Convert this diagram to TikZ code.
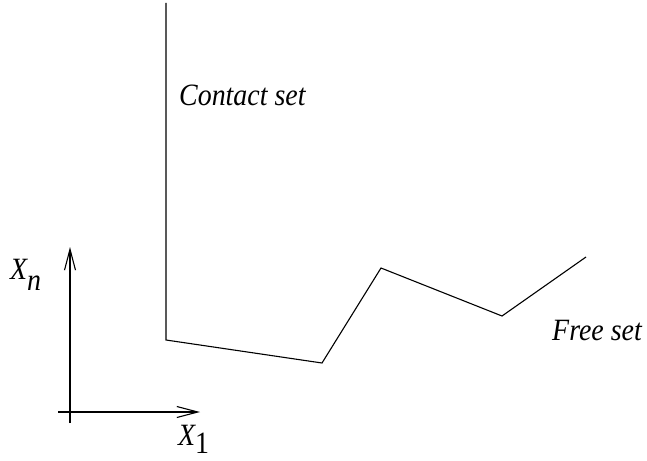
\documentclass[tikz,border=0pt]{standalone}
\usepackage{fontspec}
\setmainfont{Liberation Serif}
\usetikzlibrary{arrows.meta}

\begin{document}
\begin{tikzpicture}[
    x=1pt, y=-1pt,
    curve/.style={line width=1.1pt, line join=miter},
    axis/.style={line width=1.1pt, -{Straight Barb[length=21pt, width=11pt, line width=1.1pt]}},
    lbl/.style={anchor=base west, inner sep=0pt, font=\fontsize{31}{36}\selectfont\addfontfeature{FakeStretch=0.9}\itshape}
]
\useasboundingbox (0,0) rectangle (647,460);
% boundary between the two sets
\coordinate (top) at (166,3);
\coordinate (corner) at (166,340);
\coordinate (p1) at (322,363);
\coordinate (p2) at (381,268);
\coordinate (p3) at (502,316);
\coordinate (p4) at (586,257);
\draw[curve] (top) -- (corner) -- (p1) -- (p2) -- (p3) -- (p4);
\node[lbl] (contact) at (179,105) {Contact set};
\node[lbl] (free) at (552,340) {Free set};
% axes
\coordinate (ybot) at (70,423);
\coordinate (xleft) at (58,412);
\coordinate (ytip) at (70,247);
\coordinate (xtip) at (200,412);
\draw[axis] (ybot) -- (ytip);
\draw[axis] (xleft) -- (xtip);
\node[lbl] (xn) at (10,279) {X\raisebox{-11pt}{n}};
\node[lbl] (x1) at (178,445) {X\raisebox{-8pt}{\upshape 1}};
\end{tikzpicture}
\end{document}
